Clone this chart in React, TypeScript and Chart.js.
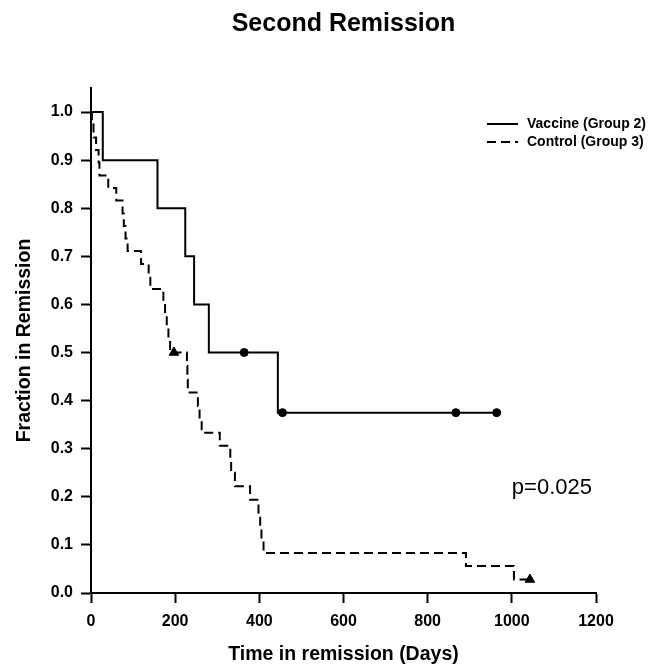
import React, { useEffect, useRef } from "react";
import { Chart, registerables } from "chart.js";

Chart.register(...registerables);

const FONT = "'Liberation Sans', Arial, Helvetica, sans-serif";

const TITLE = "Second Remission";
const X_TITLE = "Time in remission (Days)";
const Y_TITLE = "Fraction in Remission";
const P_TEXT = "p=0.025";

const X_MIN = 0;
const X_MAX = 1200;
const X_STEP = 200;
const Y_MIN = 0;
const Y_MAX = 1.05;
const Y_STEP = 0.1;

// Vaccine (Group 2) Kaplan-Meier curve
const vaccineLabel = "Vaccine (Group 2)";
const vaccineDays = [0, 28, 158, 224, 245, 280, 364, 444, 455, 867, 964];
const vaccineSurvival = [1.0, 0.9, 0.8, 0.7, 0.6, 0.5, 0.5, 0.375, 0.375, 0.375, 0.375];
const vaccineCensorDays = [364, 455, 867, 964];
const vaccineCensorSurvival = [0.5, 0.375, 0.375, 0.375];

// Control (Group 3) Kaplan-Meier curve
const controlLabel = "Control (Group 3)";
const controlDays = [
  0, 2, 6, 12, 18, 20, 41, 60, 75, 78, 82, 87, 119, 137, 141, 172, 176, 180, 184, 188, 197,
  228, 229, 230, 254, 258, 263, 306, 331, 333, 342, 378, 398, 402, 405, 410, 891, 1005, 1043,
];
const controlSurvival = [
  1.0, 0.974, 0.947, 0.921, 0.895, 0.868, 0.842, 0.816, 0.789, 0.763, 0.737, 0.711, 0.684, 0.658,
  0.632, 0.605, 0.579, 0.553, 0.526, 0.5, 0.5, 0.472, 0.444, 0.417, 0.389, 0.361, 0.333, 0.306,
  0.278, 0.25, 0.222, 0.194, 0.167, 0.139, 0.111, 0.083, 0.056, 0.028, 0.028,
];
const controlCensorDays = [197, 1043];
const controlCensorSurvival = [0.5, 0.028];

const pValueAnchor = { day: 1000, value: 0.218 };

const toPoints = (xs: number[], ys: number[]) => xs.map((x, i) => ({ x, y: ys[i] }));

const annotationPlugin = {
  id: "kmAnnotations",
  afterDraw(chart: any) {
    const { ctx, chartArea, scales } = chart;
    ctx.save();
    ctx.fillStyle = "#000";
    // Title
    ctx.font = `bold 25px ${FONT}`;
    ctx.textAlign = "center";
    ctx.textBaseline = "middle";
    ctx.fillText(TITLE, (chartArea.left + chartArea.right) / 2, 24);

    // p value
    ctx.font = `22px ${FONT}`;
    ctx.textAlign = "left";
    ctx.fillText(
      P_TEXT,
      scales.x.getPixelForValue(pValueAnchor.day),
      scales.y.getPixelForValue(pValueAnchor.value)
    );

    // Legend
    const items = chart.data.datasets.filter((d: any) => d.showInLegend);
    const lineX0 = chartArea.right - 109;
    const lineX1 = chartArea.right - 78;
    const textX = chartArea.right - 69;
    let rowY = chartArea.top + 36;
    ctx.font = `bold 14px ${FONT}`;
    ctx.textBaseline = "middle";
    items.forEach((d: any) => {
      ctx.beginPath();
      ctx.strokeStyle = d.borderColor;
      ctx.lineWidth = d.borderWidth;
      ctx.setLineDash(d.borderDash || []);
      ctx.moveTo(lineX0, rowY);
      ctx.lineTo(lineX1, rowY);
      ctx.stroke();
      ctx.setLineDash([]);
      ctx.fillText(d.label, textX, rowY);
      rowY += 18;
    });
    ctx.restore();
  },
};

export default function App() {
  const canvasRef = useRef<HTMLCanvasElement | null>(null);

  useEffect(() => {
    if (!canvasRef.current) return;
    Chart.defaults.font.family = FONT;
    Chart.defaults.color = "#000";

    const chart = new Chart(canvasRef.current, {
      type: "line",
      data: {
        datasets: [
          {
            label: "vaccine censored",
            type: "scatter",
            data: toPoints(vaccineCensorDays, vaccineCensorSurvival),
            pointStyle: "circle",
            pointRadius: 4,
            backgroundColor: "#000",
            borderColor: "#000",
            borderWidth: 1,
            showLine: false,
          } as any,
          {
            label: "control censored",
            type: "scatter",
            data: toPoints(controlCensorDays, controlCensorSurvival),
            pointStyle: "triangle",
            pointRadius: 5.5,
            backgroundColor: "#000",
            borderColor: "#000",
            borderWidth: 1,
            showLine: false,
          } as any,
          {
            label: vaccineLabel,
            showInLegend: true,
            data: toPoints(vaccineDays, vaccineSurvival),
            stepped: true,
            borderColor: "#000",
            borderWidth: 2,
            pointRadius: 0,
            fill: false,
          } as any,
          {
            label: controlLabel,
            showInLegend: true,
            data: toPoints(controlDays, controlSurvival),
            stepped: true,
            borderColor: "#000",
            borderWidth: 2,
            borderDash: [9, 5],
            pointRadius: 0,
            fill: false,
          } as any,
        ],
      },
      options: {
        animation: false,
        responsive: true,
        maintainAspectRatio: false,
        layout: { padding: { top: 88, right: 64, left: 0, bottom: 0 } },
        plugins: {
          legend: { display: false },
          title: { display: false },
          tooltip: { enabled: false },
        },
        scales: {
          x: {
            type: "linear",
            position: "bottom",
            min: X_MIN,
            max: X_MAX,
            ticks: {
              stepSize: X_STEP,
              font: { size: 16, weight: "bold" },
              color: "#000",
              padding: 9,
              maxRotation: 0,
              callback: (v: any) => String(v),
            },
            grid: {
              drawOnChartArea: false,
              drawTicks: true,
              tickLength: 10,
              tickWidth: 2,
              tickColor: "#000",
            },
            border: { display: true, color: "#000", width: 2 },
            title: {
              display: true,
              text: X_TITLE,
              font: { size: 19.5, weight: "bold" },
              color: "#000",
              padding: { top: 0, bottom: 0 },
            },
            afterFit: (s: any) => {
              s.height = 73;
            },
          } as any,
          y: {
            type: "linear",
            min: Y_MIN,
            max: Y_MAX,
            ticks: {
              stepSize: Y_STEP,
              includeBounds: false,
              font: { size: 16, weight: "bold" },
              color: "#000",
              padding: 8,
              callback: (v: any) => Number(v).toFixed(1),
            },
            afterBuildTicks: (s: any) => {
              s.ticks = s.ticks.filter((t: any) => t.value <= 1.0001);
            },
            grid: {
              drawOnChartArea: false,
              drawTicks: true,
              tickLength: 10,
              tickWidth: 2,
              tickColor: "#000",
            },
            border: { display: true, color: "#000", width: 2 },
            title: {
              display: true,
              text: Y_TITLE,
              font: { size: 19.5, weight: "bold" },
              color: "#000",
              padding: { top: 13, bottom: 0 },
            },
            afterFit: (s: any) => {
              s.width = 91;
            },
          } as any,
        },
      },
      plugins: [annotationPlugin],
    });

    return () => chart.destroy();
  }, []);

  return (
    <div style={{ position: "fixed", left: 0, top: 0, width: 660, height: 666, background: "#fff" }}>
      <canvas ref={canvasRef} />
    </div>
  );
}
